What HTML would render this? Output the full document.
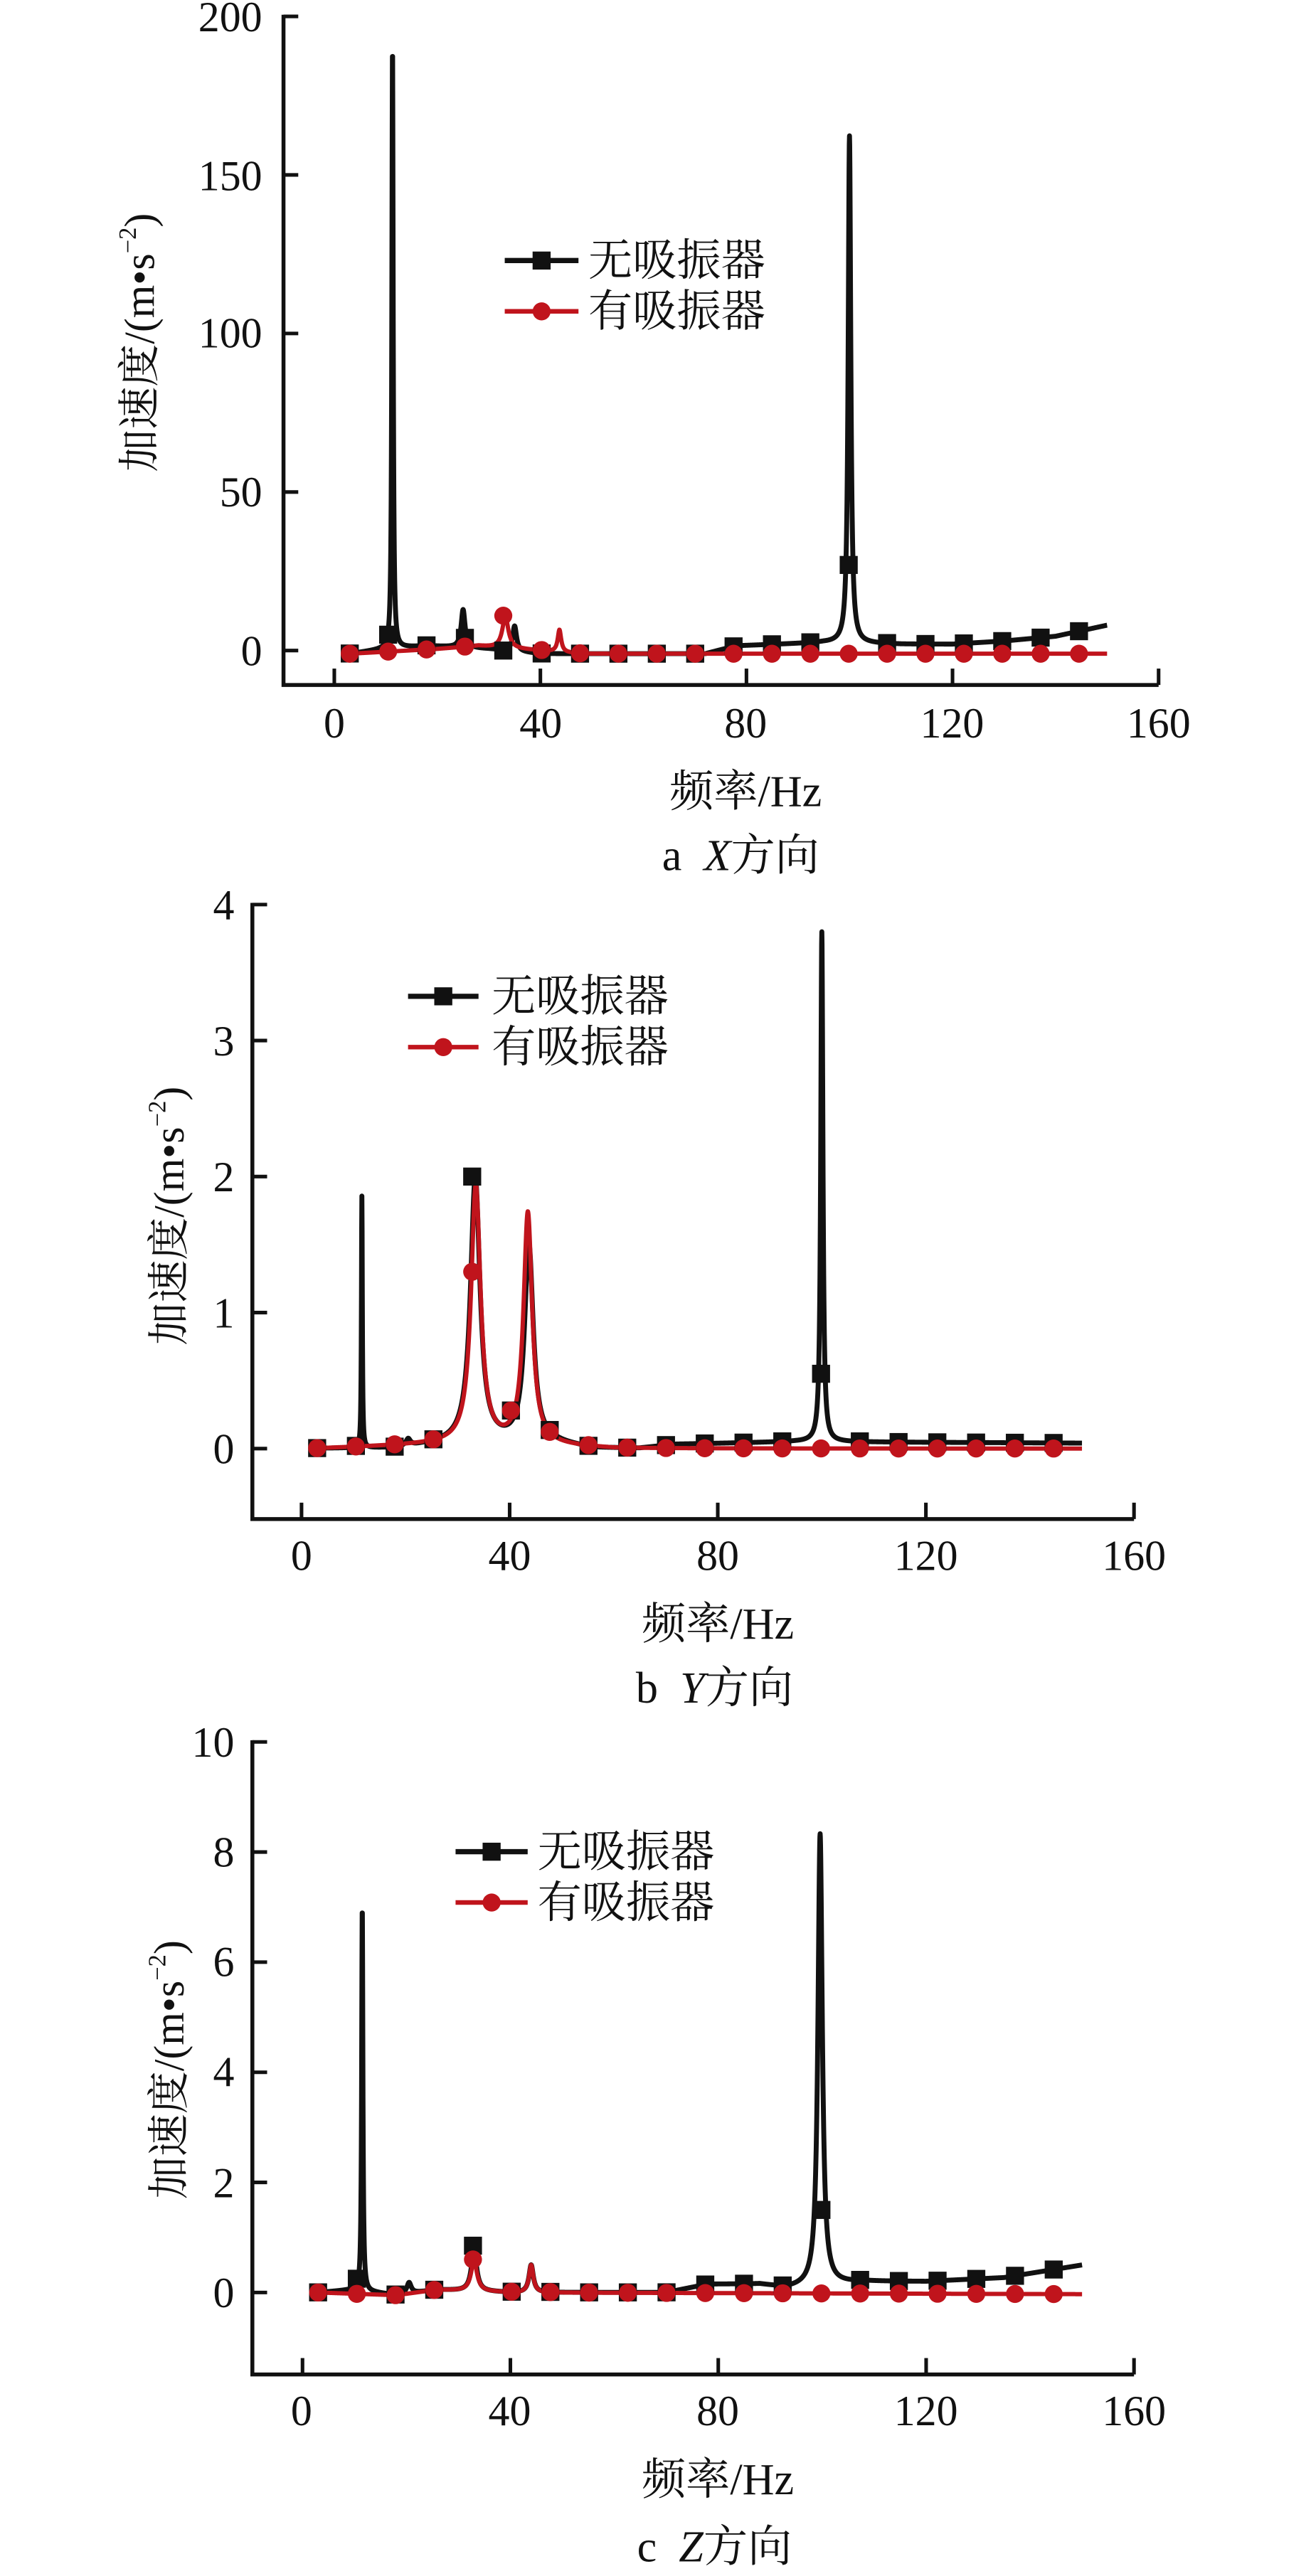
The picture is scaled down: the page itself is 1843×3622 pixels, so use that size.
<!DOCTYPE html>
<html><head><meta charset="utf-8"><style>
html,body{margin:0;padding:0;background:#fff;}
svg{display:block;}
text{font-family:"Liberation Serif","Noto Serif CJK SC","Noto Sans CJK SC",serif;fill:#111;}
</style></head><body>
<svg id="s" width="1843" height="3622" viewBox="0 0 800 1572" preserveAspectRatio="none" xmlns="http://www.w3.org/2000/svg">
<g id="g"></g>
<g font-size="26" text-anchor="end">
<text x="160" y="19">200</text><text x="160" y="116">150</text><text x="160" y="212">100</text><text x="160" y="309">50</text><text x="160" y="406">0</text>
<text x="143" y="561">4</text><text x="143" y="644">3</text><text x="143" y="727">2</text><text x="143" y="810">1</text><text x="143" y="893">0</text>
<text x="143" y="1072">10</text><text x="143" y="1139">8</text><text x="143" y="1206">6</text><text x="143" y="1273">4</text><text x="143" y="1341">2</text><text x="143" y="1408">0</text>
</g>
<g font-size="26" text-anchor="middle">
<text x="204" y="450">0</text><text x="330" y="450">40</text><text x="455" y="450">80</text><text x="581" y="450">120</text><text x="707" y="450">160</text>
<text x="184" y="958">0</text><text x="311" y="958">40</text><text x="438" y="958">80</text><text x="565" y="958">120</text><text x="692" y="958">160</text>
<text x="184" y="1480">0</text><text x="311" y="1480">40</text><text x="438" y="1480">80</text><text x="565" y="1480">120</text><text x="692" y="1480">160</text>
</g>
<g font-size="27" text-anchor="middle">
<text x="455" y="492">频率/Hz</text>
<text x="438" y="1000">频率/Hz</text>
<text x="438" y="1522">频率/Hz</text>
<text x="452" y="531">a&#160;&#160;<tspan font-style="italic">X</tspan>方向</text>
<text x="436" y="1039">b&#160;&#160;<tspan font-style="italic">Y</tspan>方向</text>
<text x="436" y="1563">c&#160;&#160;<tspan font-style="italic">Z</tspan>方向</text>
</g>
<g font-size="26" text-anchor="middle">
<text transform="translate(94,209) rotate(-90)">加速度/(m•s<tspan font-size="15" dy="-11">−2</tspan><tspan dy="11">)</tspan></text>
<text transform="translate(112,742) rotate(-90)">加速度/(m•s<tspan font-size="15" dy="-11">−2</tspan><tspan dy="11">)</tspan></text>
<text transform="translate(112,1263) rotate(-90)">加速度/(m•s<tspan font-size="15" dy="-11">−2</tspan><tspan dy="11">)</tspan></text>
</g>
<g font-size="27">
<text x="359" y="168">无吸振器</text><text x="359" y="199">有吸振器</text>
<text x="300" y="617">无吸振器</text><text x="300" y="648">有吸振器</text>
<text x="328" y="1139">无吸振器</text><text x="328" y="1170">有吸振器</text>
</g>
</svg>
<script>
(function(){
var g=document.getElementById('g'),NS='http://www.w3.org/2000/svg';
function el(t,a){var e=document.createElementNS(NS,t);for(var k in a)e.setAttribute(k,a[k]);g.appendChild(e);return e;}
function interp(pts,f){if(f<=pts[0][0])return pts[0][1];for(var i=1;i<pts.length;i++){if(f<=pts[i][0]){var a=pts[i-1],b=pts[i];return a[1]+(b[1]-a[1])*(f-a[0])/(b[0]-a[0]);}}return pts[pts.length-1][1];}
function fn(base,peaks){return function(f){var v=interp(base,f);for(var i=0;i<peaks.length;i++){var p=peaks[i],d=(f-p[0])/p[2];v+=p[1]/(1+d*d);}return v;};}
var charts=[
{x0:204,x160:707,y0:397,tv:200,ty:10,ax:173,ay:418,yt:[0,50,100,150,200],leg:[308,353,159,190],
 bo:{1:5,3:4,4:0,13:27},ro:{4:11},
 black:fn([[3,-1],[10,0.5],[18,1.5],[30,0.5],[40,-1],[48,-1],[72,-1],[78,1.5],[95,2.5],[110,2],[120,2],[130,3],[140,4.5],[150,8]],[[11.3,190,0.15],[25,12,0.45],[35,8,0.45],[100,160,0.3]]),
 red:fn([[3,-1],[20,0.5],[28,1.5],[31,1],[40,0],[48,-1],[150,-1]],[[33.2,10,0.7],[43.7,7,0.4]])},
{x0:184,x160:692,y0:884,tv:4,ty:552,ax:154,ay:927,yt:[0,1,2,3,4],leg:[249,292,608,639],
 bo:{4:2.0,5:0.28,13:0.55},ro:{4:1.3,5:0.28},
 black:fn([[3,0],[18,0],[26,0.03],[48,0.04],[56,0],[65,0],[72,0.03],[95,0.05],[150,0.04]],[[11.6,1.85,0.1],[20.5,0.05,0.5],[33.4,1.95,1.1],[43.7,1.45,1.0],[100,3.75,0.25]]),
 red:fn([[3,0],[26,0.03],[48,0.02],[60,0],[150,0]],[[33.5,1.9,1.1],[43.5,1.7,1.0]])},
{x0:184.6,x160:692,y0:1399,tv:10,ty:1063,ax:154,ay:1449,yt:[0,2,4,6,8,10],leg:[278,322,1130,1161],
 bo:{1:0.25,4:0.85,13:1.5},ro:{4:0.6},
 black:fn([[3,0],[10,0.05],[18,-0.05],[26,0.05],[40,0],[70,0],[78,0.15],[88,0.15],[93,0.08],[108,0.2],[120,0.2],[135,0.27],[150,0.5]],[[11.5,7.0,0.14],[20.5,0.2,0.5],[33,0.75,0.6],[44,0.5,0.5],[99.6,8.2,0.5]]),
 red:fn([[3,0],[18,-0.05],[26,0.05],[40,0],[150,-0.03]],[[33,0.55,0.7],[44,0.5,0.5]])}
];
charts.forEach(function(c){
 var X=function(f){return c.x0+(c.x160-c.x0)*f/160;},Y=function(v){return c.y0-(c.y0-c.ty)*v/c.tv;};
 el('path',{d:'M'+c.ax+' '+(c.ty-1)+'V'+c.ay+'H'+c.x160,fill:'none',stroke:'#111','stroke-width':2.4});
 c.yt.forEach(function(v){el('line',{x1:c.ax,x2:c.ax+9,y1:Y(v),y2:Y(v),stroke:'#111','stroke-width':2.2});});
 [0,40,80,120,160].forEach(function(f){el('line',{x1:X(f),x2:X(f),y1:c.ay,y2:c.ay-10,stroke:'#111','stroke-width':2.2});});
 [['black','#111',3],['red','#c0141c',2.6]].forEach(function(s){
  var F=c[s[0]],d='';
  for(var f=3;f<=150.001;f+=0.04){d+=(d?'L':'M')+X(f).toFixed(2)+' '+Y(F(f)).toFixed(2);}
  el('path',{d:d,fill:'none',stroke:s[1],'stroke-width':s[2],'stroke-linejoin':'round'});
 });
 for(var k=0;k<20;k++){var f=3+7.45*k;var v=(k in c.bo)?c.bo[k]:c.black(f);
  el('rect',{x:X(f)-5.5,y:Y(v)-5.5,width:11,height:11,fill:'#111'});}
 for(var k=0;k<20;k++){var f=3+7.45*k;var v=(k in c.ro)?c.ro[k]:c.red(f);
  el('circle',{cx:X(f),cy:Y(v),r:5.5,fill:'#c0141c'});}
 var L=c.leg,m=(L[0]+L[1])/2;
 el('line',{x1:L[0],x2:L[1],y1:L[2],y2:L[2],stroke:'#111','stroke-width':3.2});
 el('rect',{x:m-5.5,y:L[2]-5.5,width:11,height:11,fill:'#111'});
 el('line',{x1:L[0],x2:L[1],y1:L[3],y2:L[3],stroke:'#c0141c','stroke-width':2.8});
 el('circle',{cx:m,cy:L[3],r:5.5,fill:'#c0141c'});
});
})();
</script>
</body></html>
